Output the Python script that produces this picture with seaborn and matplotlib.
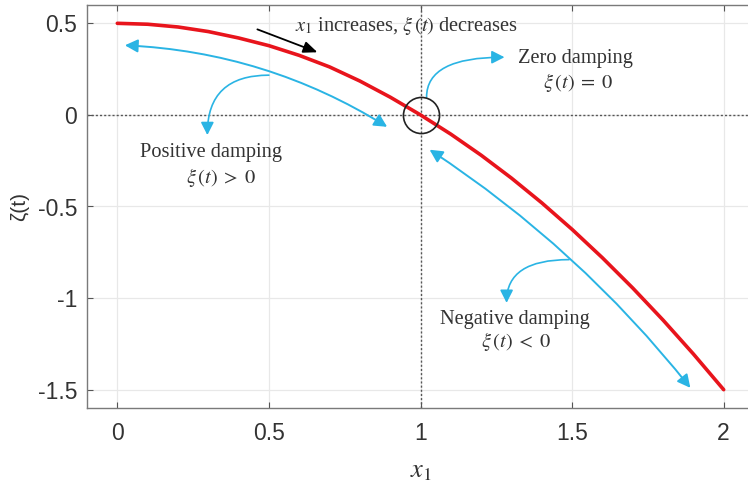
import matplotlib
matplotlib.use("Agg")
import matplotlib.pyplot as plt
import seaborn as sns
import pandas as pd

# ---- data ----
x1_vals = [0.0, 0.1, 0.2, 0.3, 0.4, 0.5, 0.6, 0.7, 0.8, 0.9, 1.0,
           1.1, 1.2, 1.3, 1.4, 1.5, 1.6, 1.7, 1.8, 1.9, 2.0]
xi_vals = [0.5, 0.495, 0.48, 0.455, 0.42, 0.378, 0.325, 0.262, 0.185, 0.097, 0.0,
           -0.105, -0.22, -0.345, -0.48, -0.625, -0.78, -0.945, -1.12, -1.305, -1.5]
x_ticks = [0, 0.5, 1, 1.5, 2]
x_tick_labels = ["0", "0.5", "1", "1.5", "2"]
y_ticks = [0.5, 0, -0.5, -1, -1.5]
y_tick_labels = ["0.5", "0", "-0.5", "-1", "-1.5"]

# annotation anchors (data coords)
pos_arrow = [(0.025, 0.38), (0.89, -0.065)]
neg_arrow = [(1.03, -0.19), (1.89, -1.49)]
pos_branch = [(0.50, 0.217), (0.297, -0.11)]
zero_branch = [(1.02, 0.097), (1.277, 0.315)]
neg_branch = [(1.49, -0.79), (1.284, -1.026)]
dir_arrow = [(0.462, 0.467), (0.66, 0.342)]

RED = "#e8141c"
CYAN = "#2ab4e4"

sns.set_theme(style="white")
plt.rcParams["font.family"] = ["Liberation Sans", "DejaVu Sans"]
plt.rcParams["mathtext.fontset"] = "stix"
plt.rcParams["axes.unicode_minus"] = False

fig = plt.figure(figsize=(7.48, 4.84), dpi=100)
ax = fig.add_axes([87 / 748, 76 / 484, 667 / 748, 403 / 484])

df = pd.DataFrame({"x1": x1_vals, "xi": xi_vals})
sns.lineplot(data=df, x="x1", y="xi", color=RED, lw=2.6, ax=ax, zorder=5)

ax.set_xlim(-0.1, 2.1)
ax.set_ylim(-1.6, 0.6)
ax.set_xticks(x_ticks)
ax.set_xticklabels(x_tick_labels)
ax.set_yticks(y_ticks)
ax.set_yticklabels(y_tick_labels)
ax.grid(True, color="#e8e8e8", lw=0.9)
ax.tick_params(direction="in", length=4, width=0.8, color="#555555",
               labelsize=16.5, labelcolor="#333333", top=True, right=True,
               left=True, bottom=True)
ax.tick_params(axis="y", pad=7)
ax.tick_params(axis="x", pad=10)
for s in ax.spines.values():
    s.set_color("#7a7a7a")
    s.set_linewidth(1.0)

ax.axvline(1, color="#555555", lw=1.0, ls=(0, (1.5, 1.5)), zorder=2)
ax.axhline(0, color="#555555", lw=1.0, ls=(0, (1.5, 1.5)), zorder=2)

ax.set_xlabel(r"$x_1$", fontsize=19, color="#333333", labelpad=10)
ax.set_ylabel("ζ(t)", fontsize=15, color="#333333", labelpad=6)

# circle at the crossing point
ax.plot([1], [0], marker="o", ms=26, mfc="none", mec="#222222", mew=1.2, zorder=6)

astyle2 = "<|-|>,head_length=0.55,head_width=0.28"
astyle1 = "-|>,head_length=0.55,head_width=0.28"

ax.annotate("", xy=pos_arrow[1], xytext=pos_arrow[0],
            arrowprops=dict(arrowstyle=astyle2, color=CYAN, lw=1.4,
                            connectionstyle="arc3,rad=-0.13",
                            shrinkA=0, shrinkB=0, mutation_scale=14), zorder=4)
ax.annotate("", xy=neg_arrow[1], xytext=neg_arrow[0],
            arrowprops=dict(arrowstyle=astyle2, color=CYAN, lw=1.4,
                            connectionstyle="arc3,rad=-0.08",
                            shrinkA=0, shrinkB=0, mutation_scale=14), zorder=4)
ax.annotate("", xy=pos_branch[1], xytext=pos_branch[0],
            arrowprops=dict(arrowstyle=astyle1, color=CYAN, lw=1.2,
                            connectionstyle="angle3,angleA=180,angleB=90",
                            shrinkA=0, shrinkB=0, mutation_scale=14), zorder=4)
ax.annotate("", xy=zero_branch[1], xytext=zero_branch[0],
            arrowprops=dict(arrowstyle=astyle1, color=CYAN, lw=1.2,
                            connectionstyle="angle3,angleA=90,angleB=0",
                            shrinkA=0, shrinkB=0, mutation_scale=14), zorder=4)
ax.annotate("", xy=neg_branch[1], xytext=neg_branch[0],
            arrowprops=dict(arrowstyle=astyle1, color=CYAN, lw=1.2,
                            connectionstyle="angle3,angleA=180,angleB=90",
                            shrinkA=0, shrinkB=0, mutation_scale=14), zorder=4)
ax.annotate("", xy=dir_arrow[1], xytext=dir_arrow[0],
            arrowprops=dict(arrowstyle="-|>,head_length=0.6,head_width=0.25",
                            color="black", lw=1.3, shrinkA=0, shrinkB=0,
                            mutation_scale=14), zorder=7)

serif = ["Liberation Serif", "DejaVu Serif"]
tk = dict(fontsize=14.7, family=serif, color="#333333", zorder=8)
ax.text(0.585, 0.49, r"$x_1$ increases, $\xi\,(t)$ decreases", ha="left", va="center", **tk)
ax.text(0.31, -0.203, "Positive damping", ha="center", va="center", **tk)
ax.text(0.343, -0.339, r"$\xi\,(t)\;>\;0$", ha="center", va="center", **tk)
ax.text(1.51, 0.309, "Zero damping", ha="center", va="center", **tk)
ax.text(1.52, 0.178, r"$\xi\,(t)\;=\;0$", ha="center", va="center", **tk)
ax.text(1.31, -1.118, "Negative damping", ha="center", va="center", **tk)
ax.text(1.317, -1.238, r"$\xi\,(t)\;<\;0$", ha="center", va="center", **tk)

fig.savefig("out.png", dpi=100)
